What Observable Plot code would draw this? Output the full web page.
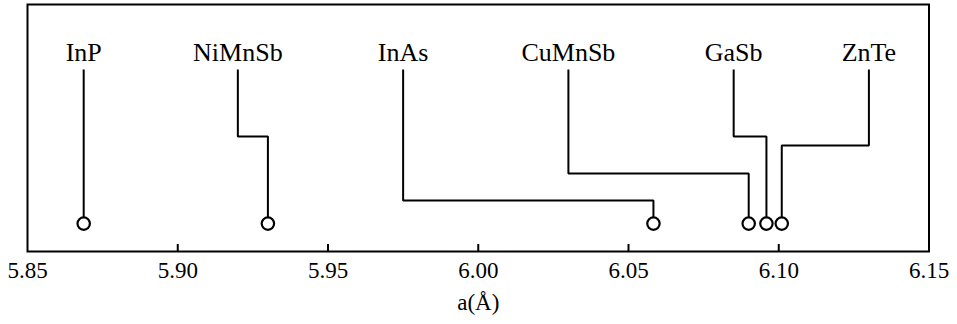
<!DOCTYPE html>
<html>
<head>
<meta charset="utf-8">
<script src="https://cdn.jsdelivr.net/npm/d3@7"></script>
<script src="https://cdn.jsdelivr.net/npm/@observablehq/plot@0.6"></script>
<style>
  html, body { margin: 0; padding: 0; background: white; }
</style>
</head>
<body>
<div id="chart"></div>
<script>
// Materials and their lattice constants a (Å)
const materials = ["InP", "NiMnSb", "InAs", "CuMnSb", "GaSb", "ZnTe"];
const latticeA = [5.8687, 5.93, 6.0583, 6.09, 6.0959, 6.101];
// x position (in Å units) where each label sits
const labelA = [5.8687, 5.92, 5.975, 6.03, 6.085, 6.13];
// height (0–100 of plot height) of each leader-line elbow; null = straight
const elbowLevel = [null, 46.6, 20.6, 31.6, 46.6, 42.9];
const pointLevel = 11.3;
const leaderTopLevel = 73.7;
const labelLevel = 77.3;
const xTicks = [5.85, 5.90, 5.95, 6.00, 6.05, 6.10, 6.15];
const innerTickLen = 2.83;
const serif = "Liberation Serif, Times New Roman, DejaVu Serif, serif";

const rows = materials.map((m, i) => ({name: m, a: latticeA[i], la: labelA[i], elbow: elbowLevel[i]}));

const leader = [];
rows.forEach(r => {
  leader.push({name: r.name, x: r.la, y: leaderTopLevel});
  if (r.elbow != null) {
    leader.push({name: r.name, x: r.la, y: r.elbow});
    leader.push({name: r.name, x: r.a, y: r.elbow});
  }
  leader.push({name: r.name, x: r.a, y: pointLevel});
});

const chart = Plot.plot({
  width: 957,
  height: 324,
  marginLeft: 27,
  marginRight: 28.5,
  marginTop: 4,
  marginBottom: 73,
  style: {fontFamily: serif, fontSize: "23px", background: "white", color: "black"},
  x: {domain: [5.85, 6.15]},
  y: {domain: [0, 100], axis: null},
  marks: [
    Plot.frame({stroke: "black", strokeWidth: 2}),
    Plot.axisX(xTicks, {tickSize: 0, tickPadding: 10, tickFormat: d3.format(".2f"), fontSize: 23, fontFamily: serif, label: null}),
    Plot.ruleX(xTicks.slice(1, -1), {x: d => d, y1: 0, y2: innerTickLen, stroke: "black", strokeWidth: 2}),
    Plot.line(leader, {x: "x", y: "y", z: "name", stroke: "black", strokeWidth: 2, strokeLinejoin: "miter", strokeLinecap: "butt"}),
    Plot.dot(rows, {x: "a", y: pointLevel, r: 6.2, stroke: "black", strokeWidth: 2.2, fill: "white"}),
    Plot.text(rows, {x: "la", y: labelLevel, text: "name", lineAnchor: "bottom", fontSize: 26, fontFamily: serif, fill: "black"}),
    Plot.text(["a(Å)"], {frameAnchor: "bottom", dy: 58, fontSize: 23, fontFamily: serif, fill: "black"})
  ]
});
chart.querySelectorAll("text").forEach(t => t.style.fontFamily = serif);
document.getElementById("chart").appendChild(chart);
</script>
</body>
</html>
